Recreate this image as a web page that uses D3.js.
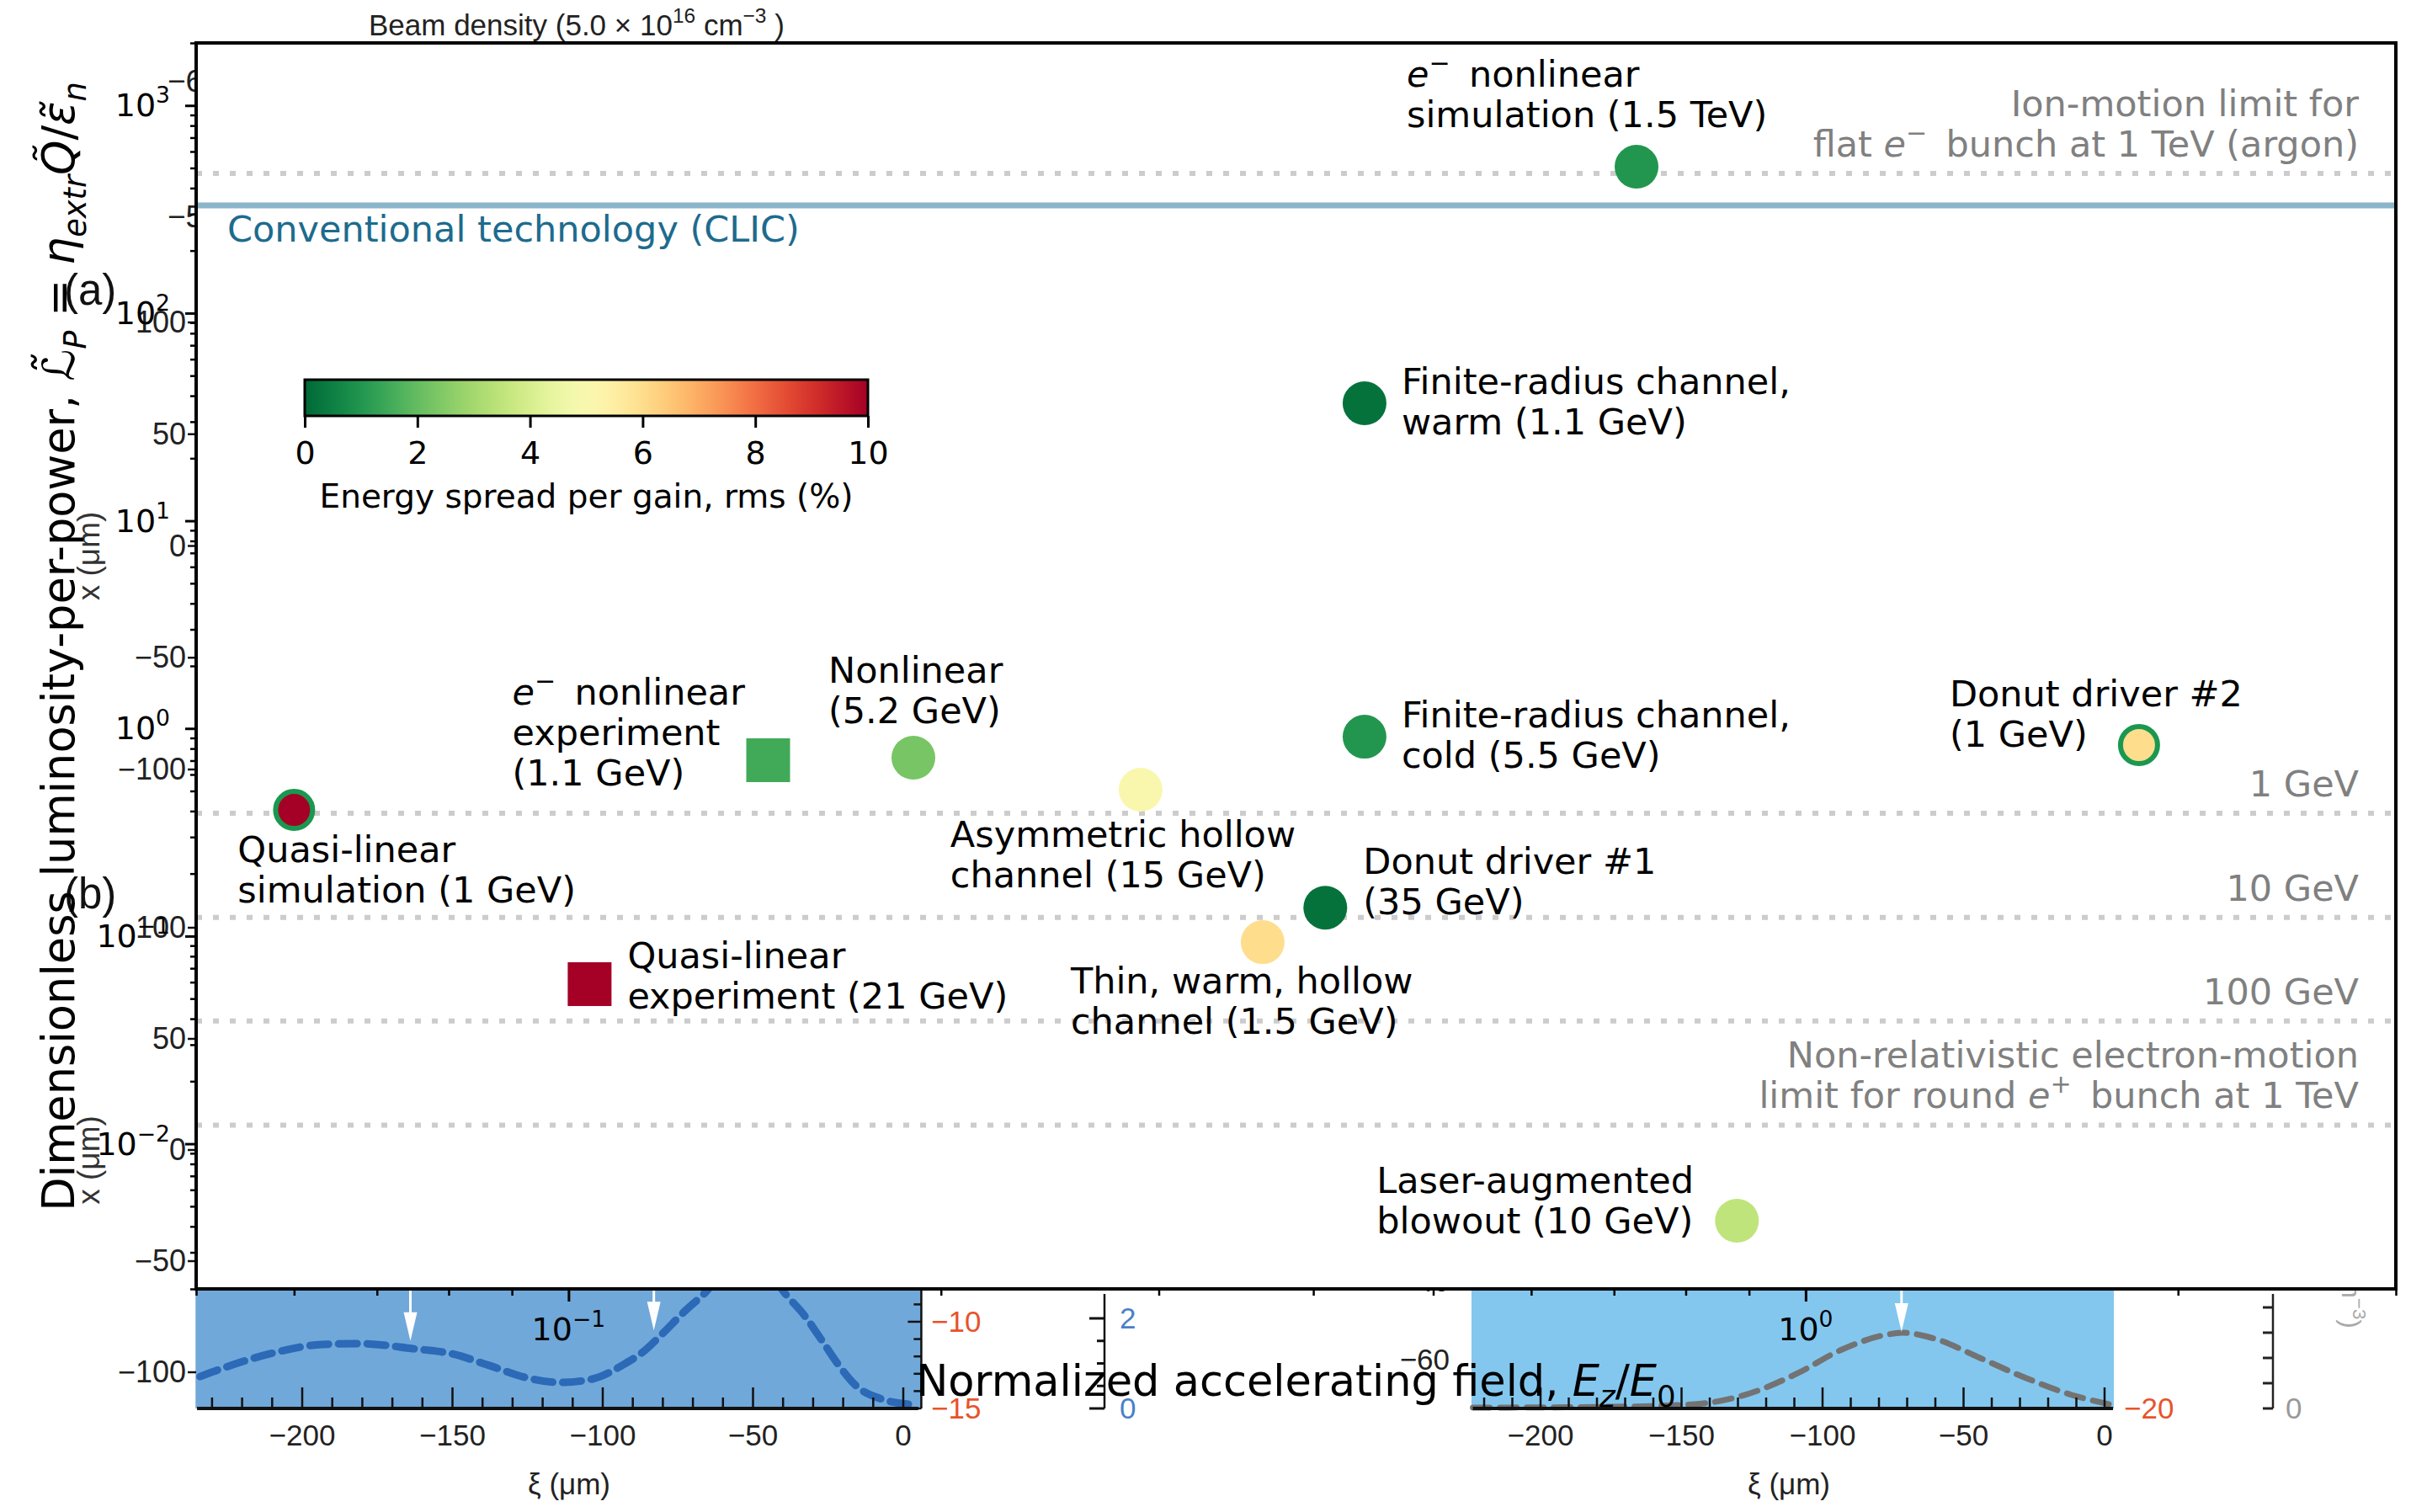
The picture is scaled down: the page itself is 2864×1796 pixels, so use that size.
<!DOCTYPE html>
<html lang="en">
<head>
<meta charset="utf-8">
<title>Luminosity-per-power vs normalized accelerating field</title>
<script src="https://cdn.jsdelivr.net/npm/d3@7/dist/d3.min.js"></script>
<style>
  html, body { margin: 0; padding: 0; background: #fff; }
  svg { display: block; }
  .main text { font-family: "DejaVu Sans", sans-serif; }
  .under text { font-family: "Liberation Sans Narrow", "Liberation Sans", Arial, sans-serif; }
</style>
</head>
<body>
<svg id="fig" width="2864" height="1796"></svg>
<script>
// ---------------- data: accelerator concepts ----------------
const labelLines = [
  ["$e^-$ nonlinear", "simulation (1.5 TeV)"],
  ["Finite-radius channel,", "warm (1.1 GeV)"],
  ["Finite-radius channel,", "cold (5.5 GeV)"],
  ["Donut driver #2", "(1 GeV)"],
  ["Nonlinear", "(5.2 GeV)"],
  ["$e^-$ nonlinear", "experiment", "(1.1 GeV)"],
  ["Asymmetric hollow", "channel (15 GeV)"],
  ["Quasi-linear", "simulation (1 GeV)"],
  ["Donut driver #1", "(35 GeV)"],
  ["Thin, warm, hollow", "channel (1.5 GeV)"],
  ["Quasi-linear", "experiment (21 GeV)"],
  ["Laser-augmented", "blowout (10 GeV)"]
];
const fieldRatio   = [0.73, 0.44, 0.44, 1.86, 0.19, 0.145, 0.29, 0.060, 0.409, 0.364, 0.104, 0.88];
const lumPerPower  = [507, 36.8, 0.912, 0.832, 0.723, 0.703, 0.507, 0.405, 0.137, 0.0935, 0.0587, 0.00426];
const energySpread = [1.0, 0.2, 1.0, 6.0, 2.3, 1.5, 5.0, 10, 0.2, 6.0, 10, 3.5];
const markerKind   = ["circle", "circle", "circle", "ring", "circle", "square",
                      "circle", "ring", "circle", "circle", "square", "circle"];

// reference levels
const limitNames = [
  ["Ion-motion limit for", "flat $e^-$ bunch at 1 TeV (argon)"],
  ["1 GeV"], ["10 GeV"], ["100 GeV"],
  ["Non-relativistic electron-motion", "limit for round $e^+$ bunch at 1 TeV"]
];
const limitValues = [471, 0.39, 0.123, 0.039, 0.0123];
const clicName = "Conventional technology (CLIC)";
const clicValue = 330;

// axis ticks
const yDecades = [-2, -1, 0, 1, 2, 3];
const xDecades = [-1, 0];
const colorTicks = [0, 2, 4, 6, 8, 10];

// ---------------- data: underlying wake panels ----------------
const xiTicks = [-200, -150, -100, -50, 0];
const transverseTicks = [100, 50, 0, -50, -100];
const wakeXi    = [-234, -225.5, -210.6, -193.3, -180.7, -163.3, -150.4, -137.8, -124.9, -114, -103.4,
                   -92.7, -86.3, -79.8, -73.4, -65.8, -52, -39.2, -32.8, -27.5, -21.8, -15.4, -7, 1.7];
const wakeField = [-13.16, -12.62, -11.84, -11.31, -11.26, -11.55, -11.84, -12.52, -13.25, -13.5, -13.3,
                   -12.43, -11.7, -10.63, -9.51, -8.3, -5.5, -8.4, -9.66, -10.97, -12.43, -13.74, -14.47, -14.76];
const driverXi      = [-224, -174.6, -145.4, -125.7, -109.3, -93.1, -76.7, -71.9, -60.3, -44.2, -27.8, -11.6, 1.5];
const driverDensity = [0.011, 0.022, 0.056, 0.2, 0.456, 0.778, 0.978, 1.0, 0.922, 0.667, 0.4, 0.178, 0.056];
const wakeArrowXi = [-164, -83];
const wakeArrowTip = [-11.1, -10.5];
const driverArrowXi = [-72];
const driverArrowTip = [1.01];
const fieldTicks = [-15, -10];
const chargeTicks = [0, 2];
const potentialTicks = [-60, -40];

// ---------------- layout ----------------
const plot = { left: 233, right: 2846, top: 51, bottom: 1531 };
const FS = 43, LINE = 48, TICKFS = 38;
const svg = d3.select("#fig");
svg.append("rect").attr("width", 2864).attr("height", 1796).attr("fill", "#fff");

// rich text helper: parts {t, it, sub, sup}
function rich(sel, parts, size) {
  let shift = 0;
  parts.forEach(p => {
    const target = p.sub ? 0.26 * size : p.sup ? -0.42 * size : 0;
    const ts = sel.append("tspan").text(p.t);
    if (target - shift !== 0) ts.attr("dy", target - shift);
    shift = target;
    if (p.sub || p.sup) ts.attr("font-size", size * 0.7);
    if (p.it) ts.attr("font-style", "italic");
  });
}
function parseMath(str) {
  const out = [];
  const re = /\$e\^([-+])\$/g;
  let last = 0, m;
  while ((m = re.exec(str)) !== null) {
    if (m.index > last) out.push({ t: str.slice(last, m.index) });
    out.push({ t: "e", it: true });
    out.push({ t: m[1] === "-" ? "\u2212" : "+", sup: true });
    out.push({ t: "\u2009" });
    last = re.lastIndex;
  }
  if (last < str.length) out.push({ t: str.slice(last) });
  return out;
}
const minus = v => String(v).replace("-", "\u2212");

// ================= underlying wake figure =================
const under = svg.append("g").attr("class", "under");

// left panel (wake field)
const xiA = d3.scaleLinear().domain([-200, 0]).range([359, 1073]);
const fieldY = d3.scaleLinear().domain([-15, -10]).range([1673, 1570]);
under.append("rect").attr("x", xiA(-235.5)).attr("y", 1380)
  .attr("width", xiA(6) - xiA(-235.5)).attr("height", 1673 - 1380).attr("fill", "#70a8da");
under.append("path")
  .attr("d", d3.line().x((d, i) => xiA(wakeXi[i])).y(d => fieldY(d)).curve(d3.curveMonotoneX)(wakeField))
  .attr("fill", "none").attr("stroke", "#2c69b6").attr("stroke-width", 9)
  .attr("stroke-dasharray", "22 12").attr("stroke-linecap", "round");
// right panel (driver profile)
const xiB = d3.scaleLinear().domain([-200, 0]).range([1830, 2500]);
const densY = d3.scaleLinear().domain([0, 1]).range([1673, 1583]);
under.append("rect").attr("x", xiB(-224.5)).attr("y", 1380)
  .attr("width", xiB(3.3) - xiB(-224.5)).attr("height", 1673 - 1380).attr("fill", "#83c7ef");
under.append("path")
  .attr("d", d3.line().x((d, i) => xiB(driverXi[i])).y(d => densY(d)).curve(d3.curveMonotoneX)(driverDensity))
  .attr("fill", "none").attr("stroke", "#737373").attr("stroke-width", 7)
  .attr("stroke-dasharray", "20 12").attr("stroke-linecap", "round");

// white arrows marking bunch positions
function arrow(xp, tipY) {
  under.append("line").attr("x1", xp).attr("x2", xp).attr("y1", 1500).attr("y2", tipY - 20)
    .attr("stroke", "#fff").attr("stroke-width", 3);
  under.append("path").attr("d", `M${xp - 8},${tipY - 34} L${xp + 8},${tipY - 34} L${xp},${tipY} Z`)
    .attr("fill", "#fff");
}
wakeArrowXi.forEach((v, i) => arrow(xiA(v), fieldY(wakeArrowTip[i])));
driverArrowXi.forEach((v, i) => arrow(xiB(v), densY(driverArrowTip[i])));

// bottom ξ axes of the panels
[[xiA, -235, 5], [xiB, -224, 3]].forEach(([s, lo, hi]) => {
  under.append("line").attr("x1", s(lo)).attr("x2", s(hi)).attr("y1", 1673).attr("y2", 1673)
    .attr("stroke", "#111").attr("stroke-width", 4);
  d3.range(-230, 1, 10).filter(v => v >= lo && v <= hi).forEach(v => {
    under.append("line").attr("x1", s(v)).attr("x2", s(v)).attr("y1", 1673)
      .attr("y2", v % 50 === 0 ? 1648 : 1660).attr("stroke", "#111").attr("stroke-width", 2.5);
  });
  xiTicks.forEach(v => {
    under.append("text").attr("x", s(v)).attr("y", 1717).attr("text-anchor", "middle")
      .attr("font-size", 35).attr("fill", "#222").text(minus(v));
  });
  under.append("text").attr("x", (s(-200) + s(0)) / 2 - 40).attr("y", 1775).attr("text-anchor", "middle")
    .attr("font-size", 35).attr("fill", "#222").text("\u03BE (\u03BCm)");
});

// side axes of the panels
under.append("line").attr("x1", xiA(6)).attr("x2", xiA(6)).attr("y1", 1500).attr("y2", 1673)
  .attr("stroke", "#111").attr("stroke-width", 2.5);
d3.range(-15, -7, 1).forEach(v => {
  under.append("line").attr("x1", xiA(6) - (v % 5 === 0 ? 16 : 9)).attr("x2", xiA(6))
    .attr("y1", fieldY(v)).attr("y2", fieldY(v)).attr("stroke", "#111").attr("stroke-width", 2.5);
});
fieldTicks.forEach(v => {
  under.append("text").attr("x", 1106).attr("y", fieldY(v) + 12).attr("font-size", 35)
    .attr("fill", "#e8532b").text(minus(v));
});
const chargeY = d3.scaleLinear().domain([0, 2]).range([1673, 1566]);
under.append("line").attr("x1", 1312).attr("x2", 1312).attr("y1", 1537).attr("y2", 1673)
  .attr("stroke", "#111").attr("stroke-width", 2.5);
d3.range(0, 2.01, 0.5).forEach(v => {
  under.append("line").attr("x1", 1312 - (v % 2 === 0 ? 18 : 9)).attr("x2", 1312)
    .attr("y1", chargeY(v)).attr("y2", chargeY(v)).attr("stroke", "#111").attr("stroke-width", 3);
});
chargeTicks.forEach(v => {
  under.append("text").attr("x", 1330).attr("y", chargeY(v) + 12).attr("font-size", 35)
    .attr("fill", "#4a80c8").text(v);
});
const potY = d3.scaleLinear().domain([-60, -40]).range([1615, 1522]);
potentialTicks.forEach(v => {
  under.append("text").attr("x", 1722).attr("y", potY(v) + 12).attr("text-anchor", "end")
    .attr("font-size", 35).attr("fill", "#222").text(minus(v));
});
under.append("text").attr("x", xiB(3.3) + 12).attr("y", densY(0) + 12).attr("font-size", 35)
  .attr("fill", "#e8532b").text("\u221220");
const densAxis = d3.scaleLinear().domain([0, 4]).range([1673, 1553]);
under.append("line").attr("x1", 2700).attr("x2", 2700).attr("y1", 1537).attr("y2", 1673)
  .attr("stroke", "#222").attr("stroke-width", 2.5);
d3.range(0, 4.1, 1).forEach(v => {
  under.append("line").attr("x1", 2688).attr("x2", 2700).attr("y1", densAxis(v)).attr("y2", densAxis(v))
    .attr("stroke", "#222").attr("stroke-width", 3);
});
under.append("text").attr("x", 2715).attr("y", densAxis(0) + 12).attr("font-size", 35)
  .attr("fill", "#999").text("0");
const densLabel = under.append("text").attr("transform", "translate(2782,1578) rotate(90)")
  .attr("text-anchor", "end").attr("font-size", 32).attr("fill", "#aaa");
rich(densLabel, [{ t: "cm" }, { t: "\u22123", sup: true }, { t: ")" }], 32);

// transverse axes of panels (a) and (b)
const transA = d3.scaleLinear().domain([-100, 100]).range([914, 383]);
const transB = d3.scaleLinear().domain([-100, 100]).range([1630, 1102]);
[transA, transB].forEach(s => {
  transverseTicks.forEach(v => {
    under.append("text").attr("x", 221).attr("y", s(v) + 12).attr("text-anchor", "end")
      .attr("font-size", 36).attr("fill", "#222").text(minus(v));
    under.append("line").attr("x1", 223).attr("x2", 233).attr("y1", s(v)).attr("y2", s(v))
      .attr("stroke", "#111").attr("stroke-width", 2.5);
  });
  under.append("text").attr("transform", `translate(118,${(s(100) + s(-100)) / 2 + 12}) rotate(-90)`)
    .attr("text-anchor", "middle").attr("font-size", 37).attr("fill", "#333").text("x (\u03BCm)");
});
under.append("text").attr("x", 199).attr("y", 109).attr("font-size", 37).attr("fill", "#222").text("\u22126");
under.append("text").attr("x", 199).attr("y", 270).attr("font-size", 37).attr("fill", "#222").text("\u22125");
[["(a)", 345], ["(b)", 1062]].forEach(([t, yc]) => {
  under.append("text").attr("x", 76).attr("y", yc + 17).attr("font-size", 51)
    .attr("font-family", "Liberation Sans, Arial, sans-serif").attr("fill", "#111").text(t);
});
const beam = under.append("text").attr("x", 438).attr("y", 42).attr("font-size", 35).attr("fill", "#222");
rich(beam, [{ t: "Beam density (5.0 \u00D7 10" }, { t: "16", sup: true }, { t: "  cm" }, { t: "\u22123", sup: true }, { t: " )" }], 35);

// ================= main chart =================
const g = svg.append("g").attr("class", "main");
const x = d3.scaleLog().domain([0.05, 3]).range([plot.left, plot.right]);
const y = d3.scaleLog().domain([0.002, 2000]).range([plot.bottom, plot.top]);
const color = v => d3.interpolateRdYlGn(1 - v / 10);

g.append("rect").attr("x", plot.left).attr("y", plot.top)
  .attr("width", plot.right - plot.left).attr("height", plot.bottom - plot.top).attr("fill", "#fff");

// limit lines
limitValues.forEach(v => {
  g.append("line").attr("x1", plot.left).attr("x2", plot.right).attr("y1", y(v)).attr("y2", y(v))
    .attr("stroke", "#cccccc").attr("stroke-width", 6).attr("stroke-dasharray", "7 13");
});
g.append("line").attr("x1", plot.left).attr("x2", plot.right).attr("y1", y(clicValue)).attr("y2", y(clicValue))
  .attr("stroke", "#8bb5ca").attr("stroke-width", 7);
g.append("text").attr("x", plot.left + 37).attr("y", y(clicValue) + 43).attr("font-size", FS)
  .attr("fill", "#1d6b8e").text(clicName);
limitNames.forEach((lines, i) => {
  lines.forEach((ln, j) => {
    const t = g.append("text").attr("x", plot.right - 44)
      .attr("y", y(limitValues[i]) - 20 - (lines.length - 1 - j) * LINE)
      .attr("text-anchor", "end").attr("font-size", FS).attr("fill", "#808080");
    rich(t, parseMath(ln), FS);
  });
});

// markers
const idx = d3.range(fieldRatio.length);
const pts = g.selectAll("g.pt").data(idx).join("g").attr("class", "pt")
  .attr("transform", i => `translate(${x(fieldRatio[i])},${y(lumPerPower[i])})`);
pts.filter(i => markerKind[i] === "circle").append("circle").attr("r", 26)
  .attr("fill", i => color(energySpread[i]));
pts.filter(i => markerKind[i] === "ring").append("circle").attr("r", 22)
  .attr("fill", i => color(energySpread[i])).attr("stroke", "#1a9850").attr("stroke-width", 6);
pts.filter(i => markerKind[i] === "square").append("rect").attr("x", -26).attr("y", -26)
  .attr("width", 52).attr("height", 52).attr("fill", i => color(energySpread[i]));

// annotations
const labelOffset = [[-273, -95], [44, -11], [44, -11], [-225, -46], [-101, -89], [-304, -66],
                     [-226, 68], [-67, 62], [45, -40], [-228, 61], [45, -19], [-428, -33]];
idx.forEach(i => {
  labelLines[i].forEach((ln, j) => {
    const t = g.append("text")
      .attr("x", x(fieldRatio[i]) + labelOffset[i][0])
      .attr("y", y(lumPerPower[i]) + labelOffset[i][1] + j * LINE)
      .attr("font-size", FS).attr("fill", "#000");
    rich(t, parseMath(ln), FS);
  });
});

// colorbar
const cb = { x0: 362, x1: 1031, y0: 451, y1: 494 };
const grad = svg.append("defs").append("linearGradient").attr("id", "spread");
d3.range(0, 1.0001, 0.02).forEach(t => {
  grad.append("stop").attr("offset", t).attr("stop-color", color(t * 10));
});
g.append("rect").attr("x", cb.x0).attr("y", cb.y0).attr("width", cb.x1 - cb.x0).attr("height", cb.y1 - cb.y0)
  .attr("fill", "url(#spread)").attr("stroke", "#000").attr("stroke-width", 3);
const cbScale = d3.scaleLinear().domain([0, 10]).range([cb.x0, cb.x1]);
const cbAxis = g.append("g").attr("transform", `translate(0,${cb.y1})`)
  .call(d3.axisBottom(cbScale).tickValues(colorTicks).tickSize(14).tickFormat(d => d));
cbAxis.select(".domain").remove();
cbAxis.selectAll(".tick line").attr("stroke-width", 3);
cbAxis.selectAll(".tick text").attr("font-size", 38).attr("font-family", "DejaVu Sans").attr("dy", 0).attr("y", 57);
g.append("text").attr("x", (cb.x0 + cb.x1) / 2).attr("y", 603).attr("text-anchor", "middle")
  .attr("font-size", 39).text("Energy spread per gain, rms (%)");

// axes
function minorTicks(domain) {
  const out = [];
  for (let e = -4; e <= 4; e++) for (let k = 2; k <= 9; k++) {
    const v = k * Math.pow(10, e);
    if (v >= domain[0] && v <= domain[1]) out.push(v);
  }
  return out;
}
const yAxisG = g.append("g").attr("transform", `translate(${plot.left},0)`);
yAxisG.call(d3.axisLeft(y).tickValues(yDecades.map(e => Math.pow(10, e))).tickSize(13).tickFormat(""));
yAxisG.call(g2 => g2.select(".domain").remove());
yAxisG.selectAll(".tick line").attr("stroke-width", 3);
const yMinor = g.append("g").attr("transform", `translate(${plot.left},0)`)
  .call(d3.axisLeft(y).tickValues(minorTicks(y.domain())).tickSize(7).tickFormat(""));
yMinor.select(".domain").remove();
yMinor.selectAll(".tick line").attr("stroke-width", 2.5);
yDecades.forEach(e => {
  const t = g.append("text").attr("x", plot.left - 31).attr("y", y(Math.pow(10, e)) + 13)
    .attr("text-anchor", "end").attr("font-size", TICKFS);
  rich(t, [{ t: "10" }, { t: minus(e), sup: true }], TICKFS);
});

const xAxisG = g.append("g").attr("transform", `translate(0,${plot.bottom})`)
  .call(d3.axisBottom(x).tickValues(xDecades.map(e => Math.pow(10, e))).tickSize(15).tickFormat(""));
xAxisG.select(".domain").remove();
xAxisG.selectAll(".tick line").attr("stroke-width", 3);
const xMinor = g.append("g").attr("transform", `translate(0,${plot.bottom})`)
  .call(d3.axisBottom(x).tickValues(minorTicks(x.domain())).tickSize(8).tickFormat(""));
xMinor.select(".domain").remove();
xMinor.selectAll(".tick line").attr("stroke-width", 2.5);
xDecades.forEach(e => {
  const t = g.append("text").attr("x", x(Math.pow(10, e))).attr("y", plot.bottom + 61)
    .attr("text-anchor", "middle").attr("font-size", TICKFS);
  rich(t, [{ t: "10" }, { t: minus(e), sup: true }], TICKFS);
});

// frame
g.append("rect").attr("x", plot.left).attr("y", plot.top)
  .attr("width", plot.right - plot.left).attr("height", plot.bottom - plot.top)
  .attr("fill", "none").attr("stroke", "#000").attr("stroke-width", 4);

// axis titles
const XFS = 51, YFS = 52.5;
const xt = g.append("text").attr("x", (plot.left + plot.right) / 2).attr("y", 1658)
  .attr("text-anchor", "middle").attr("font-size", XFS);
rich(xt, [{ t: "Normalized accelerating field, " }, { t: "E", it: true }, { t: "z", it: true, sub: true },
          { t: "/" }, { t: "E", it: true }, { t: "0", sub: true }], XFS);
const yt = g.append("text").attr("transform", `translate(88,768) rotate(-90)`)
  .attr("text-anchor", "middle").attr("font-size", YFS);
rich(yt, [{ t: "Dimensionless luminosity-per-power, " }, { t: "\u2112\u0303", it: true }, { t: "P", it: true, sub: true },
          { t: " = " }, { t: "\u03B7", it: true }, { t: "extr", it: true, sub: true }, { t: "Q\u0303", it: true },
          { t: "/" }, { t: "\u03B5\u0303", it: true }, { t: "n", it: true, sub: true }], YFS);
</script>
</body>
</html>
